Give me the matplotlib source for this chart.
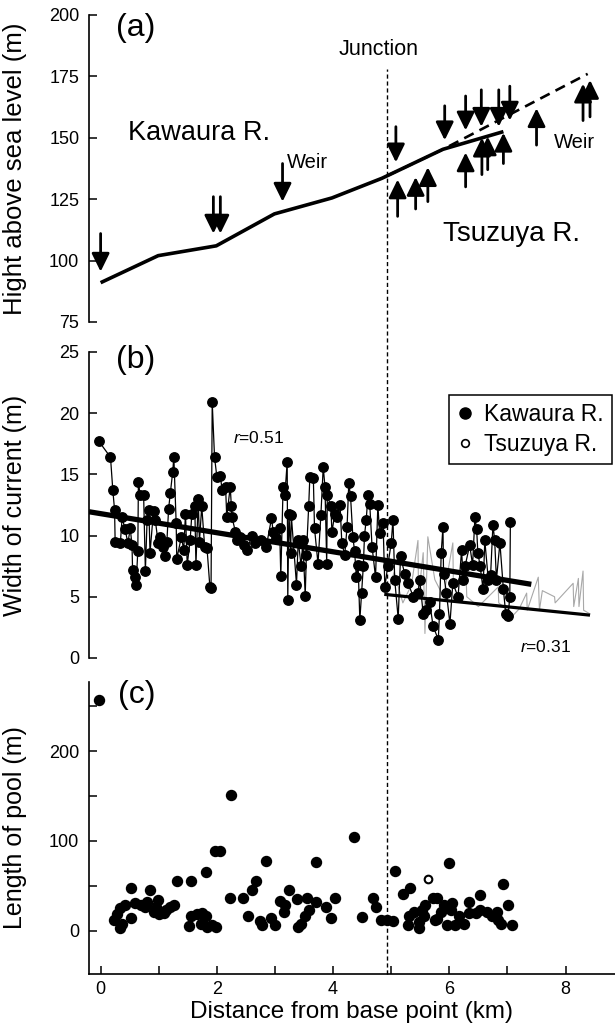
import numpy as np
import matplotlib
matplotlib.use("Agg")
import matplotlib.pyplot as plt
import matplotlib.transforms as mtransforms
from matplotlib.lines import Line2D

plt.rcParams['font.family'] = ['Liberation Sans', 'DejaVu Sans']
plt.rcParams['mathtext.fontset'] = 'custom'
plt.rcParams['mathtext.rm'] = 'Liberation Sans'
plt.rcParams['mathtext.it'] = 'Liberation Sans:italic'

# (a) profil ketinggian
kaw_a_x = [0.0, 0.99, 1.99, 2.99, 3.98, 4.84, 5.89, 6.93]
kaw_a_y = [91, 102, 106, 119, 125.5, 133.5, 145.3, 152.5]
tsu_a_x = [4.93, 5.9, 8.38]
tsu_a_y = [134.5, 145.4, 176]

down_x = [0.0, 1.94, 2.06, 3.13, 5.08, 5.92, 6.28, 6.55, 6.85, 7.04]
down_top = [111, 126, 126, 139.5, 154.5, 163, 167, 169.5, 169.5, 171]
down_tip = [95.5, 111, 111, 124, 140, 149, 153, 154.5, 154.5, 157]

up_x = [5.11, 5.42, 5.63, 6.28, 6.56, 6.66, 6.93, 7.50, 8.30, 8.42]
up_base = [118, 121, 124, 130, 135, 137, 139.5, 147, 157, 158.5]
up_tip = [133, 134, 138, 144, 150, 150.5, 152, 162, 172, 173.5]

junction_x = 4.93

# (b) lebar arus
kaw_b_x = [-0.03, 0.17, 0.21, 0.24, 0.25, 0.34, 0.37, 0.42, 0.47, 0.51, 0.54, 0.55, 0.59, 0.61,
           0.64, 0.65, 0.68, 0.74, 0.77, 0.80, 0.83, 0.85, 0.91, 0.94, 0.99, 1.03, 1.07, 1.11,
           1.14, 1.17, 1.20, 1.24, 1.26, 1.30, 1.31, 1.39, 1.43, 1.46, 1.49, 1.54, 1.57, 1.62,
           1.64, 1.68, 1.70, 1.74, 1.79, 1.83, 1.88, 1.90, 1.92, 1.96, 2.00, 2.06, 2.09, 2.15,
           2.17, 2.23, 2.25, 2.26, 2.32, 2.35, 2.40, 2.46, 2.52, 2.60, 2.66, 2.76, 2.85, 2.94,
           2.97, 3.02, 3.08, 3.10, 3.14, 3.17, 3.21, 3.22, 3.24, 3.27, 3.28, 3.37, 3.40, 3.45,
           3.48, 3.52, 3.54, 3.58, 3.60, 3.66, 3.68, 3.74, 3.79, 3.83, 3.86, 3.89, 3.90, 3.96,
           3.98, 4.03, 4.07, 4.12, 4.15, 4.20, 4.24, 4.27, 4.30, 4.34, 4.37, 4.40, 4.43, 4.46,
           4.49, 4.52, 4.54, 4.57, 4.60, 4.63, 4.67, 4.73, 4.77, 4.80, 4.86, 4.89, 4.94, 5.00,
           5.03, 5.06, 5.12, 5.16, 5.23, 5.29, 5.38, 5.46, 5.49, 5.55, 5.60, 5.66, 5.72, 5.81,
           5.83, 5.86, 5.89, 5.90, 5.95, 6.01, 6.06, 6.15, 6.21, 6.24, 6.27, 6.35, 6.40, 6.44,
           6.47, 6.49, 6.53, 6.58, 6.61, 6.67, 6.71, 6.75, 6.78, 6.81, 6.87, 6.93, 6.97, 7.01,
           7.04, 7.05]
kaw_b_y = [17.7, 16.4, 13.7, 12.1, 9.5, 9.4, 11.5, 10.5, 9.4, 10.6, 9.2, 7.2, 6.6, 6.0,
           8.7, 14.4, 13.3, 13.3, 7.1, 11.3, 12.1, 8.6, 12.0, 11.3, 9.4, 9.9, 9.1, 8.3,
           9.5, 12.2, 13.5, 15.2, 16.4, 11.0, 8.1, 9.9, 8.8, 11.8, 7.6, 9.6, 11.8, 12.4,
           7.6, 13.0, 9.5, 12.4, 9.1, 9.0, 5.8, 5.7, 20.9, 16.4, 14.8, 14.9, 13.7, 14.0,
           11.5, 14.0, 12.4, 11.5, 10.3, 9.6, 9.9, 9.2, 8.8, 10.0, 9.4, 9.6, 9.1, 11.4,
           10.3, 9.8, 10.6, 6.7, 14.0, 13.3, 16.0, 4.7, 11.8, 8.6, 11.7, 6.0, 9.6, 7.5,
           9.6, 5.1, 8.4, 12.4, 14.8, 14.7, 10.6, 7.7, 11.7, 15.6, 14.0, 7.7, 13.3, 12.4,
           10.3, 11.8, 11.5, 12.5, 9.4, 8.4, 10.7, 14.3, 13.2, 9.9, 8.7, 6.6, 7.6, 3.1,
           5.3, 7.5, 10.0, 11.3, 13.3, 12.6, 9.1, 6.6, 12.5, 10.2, 11.0, 5.8, 7.5, 9.4,
           11.3, 6.4, 3.2, 8.3, 6.9, 6.1, 5.0, 5.3, 6.4, 3.6, 3.9, 4.6, 2.6, 1.5,
           3.6, 8.6, 10.7, 6.9, 5.3, 2.8, 6.1, 5.0, 8.8, 6.4, 7.5, 9.2, 7.6, 11.5,
           10.5, 8.6, 7.5, 5.6, 9.6, 6.4, 6.8, 10.9, 9.6, 6.4, 9.4, 5.6, 3.6, 3.4,
           5.0, 11.1]

tsu_b_x = [4.95, 5.05, 5.2, 5.35, 5.46, 5.47, 5.55, 5.58, 5.63, 5.75, 5.9, 6.06, 6.07, 6.29,
           6.3, 6.5, 6.84, 6.85, 7.1, 7.2, 7.33, 7.34, 7.53, 7.55, 7.6, 7.81, 7.82, 8.13,
           8.14, 8.22, 8.23, 8.3, 8.31, 8.42]
tsu_b_y = [5.5, 7.0, 4.5, 6.0, 9.6, 5.0, 8.6, 2.0, 9.9, 6.4, 5.0, 9.4, 5.8, 6.4,
           5.0, 4.2, 5.8, 4.5, 3.5, 4.0, 5.3, 3.9, 6.6, 3.9, 5.5, 5.0, 4.5, 6.1,
           4.2, 6.5, 4.2, 7.1, 3.9, 3.6]

# garis regresi (slope, intercept, x awal, x akhir)
kaw_fit = (-0.779, 11.79, -0.2, 7.41)
tsu_fit = (-0.48, 7.54, 4.88, 8.42)

# (c) panjang kolam
kaw_c_x = [-0.03, 0.23, 0.29, 0.34, 0.34, 0.37, 0.42, 0.52, 0.53, 0.6, 0.69, 0.77, 0.8, 0.85,
           0.92, 0.95, 0.99, 1.0, 1.09, 1.13, 1.2, 1.26, 1.32, 1.52, 1.56, 1.56, 1.65, 1.72,
           1.75, 1.81, 1.82, 1.83, 1.91, 1.97, 1.99, 2.05, 2.22, 2.25, 2.45, 2.54, 2.6, 2.68,
           2.75, 2.77, 2.84, 2.94, 3.0, 3.09, 3.15, 3.18, 3.24, 3.38, 3.40, 3.44, 3.51, 3.55,
           3.58, 3.71, 3.71, 3.88, 3.97, 4.04, 4.36, 4.5, 4.68, 4.74, 4.83, 4.92, 5.03, 5.06,
           5.21, 5.29, 5.3, 5.33, 5.4, 5.47, 5.47, 5.53, 5.56, 5.58, 5.72, 5.76, 5.79, 5.79,
           5.85, 5.9, 5.96, 5.99, 6.02, 6.05, 6.1, 6.16, 6.26, 6.33, 6.33, 6.45, 6.53, 6.53,
           6.65, 6.73, 6.82, 6.84, 6.89, 6.92, 7.01, 7.07]
kaw_c_y = [257, 12, 19, 25, 3, 8, 29, 14, 48, 31, 29, 27, 32, 45,
           21, 27, 34, 19, 20, 23, 27, 29, 55, 5, 55, 16, 19, 8,
           20, 16, 66, 4, 6, 89, 4, 89, 36, 151, 36, 16, 45, 56,
           11, 6, 78, 14, 7, 33, 21, 29, 45, 35, 4, 8, 16, 36,
           23, 77, 32, 27, 14, 37, 105, 15, 36, 26, 12, 12, 11, 67,
           41, 6, 16, 48, 21, 3, 10, 23, 17, 29, 36, 12, 36, 13,
           21, 29, 6, 75, 23, 31, 6, 17, 8, 32, 20, 20, 40, 23,
           21, 16, 21, 12, 8, 52, 29, 6]
tsu_c_x = [5.64]
tsu_c_y = [58]

fig = plt.figure(figsize=(6.15, 10.3), dpi=100)
ax_a = fig.add_axes([0.1447, 0.6874, 0.8553, 0.2981])
ax_b = fig.add_axes([0.1447, 0.3612, 0.8553, 0.2971])
ax_c = fig.add_axes([0.1447, 0.0544, 0.8553, 0.2835])


def style(ax, bottom=False):
    ax.spines['top'].set_visible(False)
    ax.spines['right'].set_visible(False)
    ax.spines['left'].set_linewidth(1.2)
    if bottom:
        ax.spines['bottom'].set_linewidth(1.2)
    else:
        ax.spines['bottom'].set_visible(False)
        ax.tick_params(axis='x', which='both', bottom=False, labelbottom=False)
    ax.tick_params(which='both', direction='in', length=6, width=1.1, labelsize=13)
    ax.tick_params(axis='y', pad=7)
    ax.set_xlim(-0.2, 8.85)
    ax.patch.set_visible(False)


# ---- panel (a)
style(ax_a)
ax_a.set_ylim(75, 200)
ax_a.set_yticks([75, 100, 125, 150, 175, 200])
ax_a.plot(kaw_a_x, kaw_a_y, color='k', lw=2.6, solid_capstyle='butt')
ax_a.plot(tsu_a_x, tsu_a_y, color='k', lw=1.9, ls=(0, (4, 2.5)))
arrow_kw = dict(arrowstyle='-|>,head_length=0.55,head_width=0.27', color='k', lw=2.0,
                mutation_scale=20, shrinkA=0, shrinkB=0)
for x, y0, y1 in zip(down_x, down_top, down_tip):
    ax_a.annotate('', xy=(x, y1), xytext=(x, y0), arrowprops=arrow_kw)
for x, y0, y1 in zip(up_x, up_base, up_tip):
    ax_a.annotate('', xy=(x, y1), xytext=(x, y0), arrowprops=arrow_kw)
ax_a.text(0.051, 0.958, '(a)', transform=ax_a.transAxes, fontsize=23, va='center', ha='left')
ax_a.text(1.7, 152, 'Kawaura R.', fontsize=19.5, ha='center', va='center')
ax_a.text(7.07, 111, 'Tsuzuya R.', fontsize=20, ha='center', va='center')
ax_a.text(3.2, 140, 'Weir', fontsize=14.5, ha='left', va='center')
ax_a.text(7.8, 148, 'Weir', fontsize=14.5, ha='left', va='center')
ax_a.text(4.78, 186, 'Junction', fontsize=15.5, ha='center', va='center')
ax_a.set_ylabel('Hight above sea level (m)', fontsize=18.5)
ax_a.yaxis.set_label_coords(-0.118, 0.5)

# ---- panel (b)
style(ax_b)
ax_b.set_ylim(0, 25)
ax_b.set_yticks([0, 5, 10, 15, 20, 25])
ax_b.plot(tsu_b_x, tsu_b_y, color='#a8a8a8', lw=0.8, zorder=1)
ax_b.plot(kaw_b_x, kaw_b_y, '-o', color='k', lw=0.9, ms=6.8, zorder=2)
for slope, icpt, x0, x1, w in [(*kaw_fit, 3.8), (*tsu_fit, 2.3)]:
    xs = np.array([x0, x1])
    ax_b.plot(xs, slope * xs + icpt, color='k', lw=w, solid_capstyle='butt', zorder=3)
ax_b.text(2.27, 18.0, '$r$=0.51', fontsize=12.5, ha='left', va='center')
ax_b.text(7.21, 0.9, '$r$=0.31', fontsize=12.5, ha='left', va='center')
ax_b.text(0.051, 0.974, '(b)', transform=ax_b.transAxes, fontsize=23, va='center', ha='left')
handles = [Line2D([], [], marker='o', ls='none', color='k', ms=8),
           Line2D([], [], marker='o', ls='none', mfc='white', mec='k', ms=5.5, mew=1.2)]
leg = ax_b.legend(handles, ['Kawaura R.', 'Tsuzuya R.'], loc='upper right',
                  bbox_to_anchor=(0.994, 0.859), fontsize=16.5, fancybox=False,
                  edgecolor='k', framealpha=1, handlelength=0.7, handletextpad=0.5,
                  borderpad=0.35, labelspacing=0.3, borderaxespad=0)
leg.get_frame().set_linewidth(1.1)
ax_b.set_ylabel('Width of current (m)', fontsize=18)
ax_b.yaxis.set_label_coords(-0.118, 0.5)

# ---- panel (c)
style(ax_c, bottom=True)
ax_c.set_ylim(-48, 277)
ax_c.set_yticks([0, 100, 200])
ax_c.set_yticks([50, 150, 250], minor=True)
ax_c.set_xticks([0, 2, 4, 6, 8])
ax_c.set_xticks([1, 3, 5, 7], minor=True)
ax_c.tick_params(axis='x', pad=5)
ax_c.plot(kaw_c_x, kaw_c_y, 'o', color='k', ms=7.2, ls='none')
ax_c.plot(tsu_c_x, tsu_c_y, 'o', mfc='white', mec='k', ms=5.5, mew=1.5, ls='none')
ax_c.text(0.055, 0.955, '(c)', transform=ax_c.transAxes, fontsize=23, va='center', ha='left')
ax_c.set_ylabel('Length of pool (m)', fontsize=18)
ax_c.yaxis.set_label_coords(-0.118, 0.5)
ax_c.set_xlabel('Distance from base point (km)', fontsize=17.5, labelpad=2)

# garis pertemuan sungai (junction) melintasi ketiga panel
top_px = ax_a.transData.transform((junction_x, 178))
top_fig = fig.transFigure.inverted().transform(top_px)[1]
trans = mtransforms.blended_transform_factory(ax_c.transData, fig.transFigure)
fig.add_artist(Line2D([junction_x, junction_x], [0.0544, top_fig], transform=trans,
                      color='k', lw=1.0, ls=(0, (3, 2))))

fig.savefig('out.png', dpi=100)
